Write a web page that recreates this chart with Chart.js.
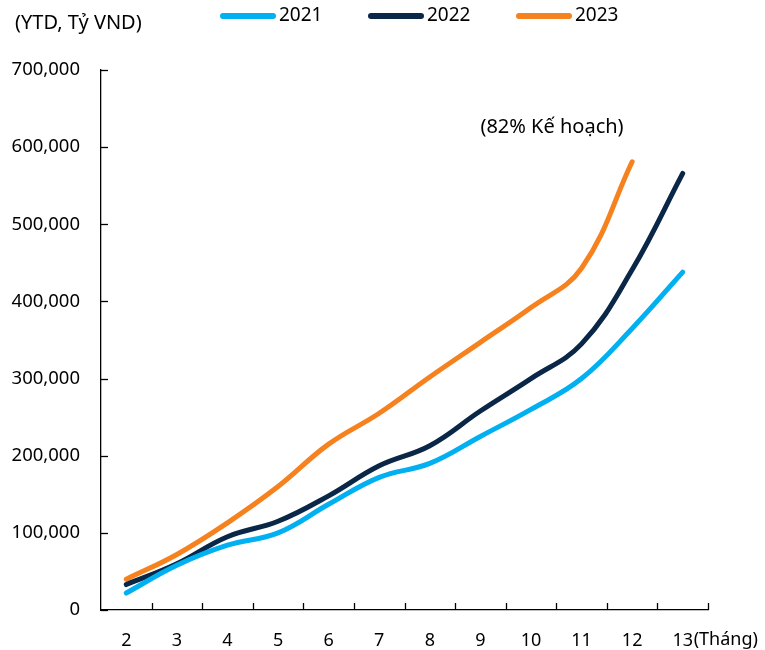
<!DOCTYPE html>
<html>
<head>
<meta charset="utf-8">
<script src="https://cdn.jsdelivr.net/npm/chart.js@4.4.0/dist/chart.umd.min.js"></script>
<style>
html,body{margin:0;padding:0;background:#fff;}
#wrap{width:765px;height:650px;position:relative;}
</style>
</head>
<body>
<div id="wrap"><canvas id="c" width="765" height="650"></canvas></div>
<script>
const categories = ["2","3","4","5","6","7","8","9","10","11","12","13"];
const series2021 = [22000, 58000, 84000, 100000, 137000, 172000, 190000, 225000, 260000, 300000, 365000, 438000];
const series2022 = [33000, 60000, 95000, 115000, 148000, 187000, 213000, 258000, 300000, 345000, 441000, 566000];
const series2023 = [40000, 72000, 113000, 160000, 215000, 255000, 302000, 347000, 392000, 443000, 581000];
const seriesNames = ["2021","2022","2023"];
const yTicks = [0,100000,200000,300000,400000,500000,600000,700000];
const unitLabel = "(YTD, Tỷ VND)";
const xUnitLabel = "(Tháng)";
const noteText = "(82% Kế hoạch)";

const COLORS = ["#00B0F0", "#0B2748", "#F5821F"];
const FONT = "'Noto Sans', 'Open Sans', sans-serif";

const extras = {
  id: 'extras',
  afterDraw(chart) {
    const ctx = chart.ctx;
    const xs = chart.scales.x, ys = chart.scales.y;
    ctx.save();
    ctx.strokeStyle = '#000';
    ctx.lineWidth = 1.3;
    // inner y ticks
    ys.ticks.forEach(t => {
      const y = Math.round(ys.getPixelForValue(t.value)) + 0.5;
      ctx.beginPath(); ctx.moveTo(xs.left, y); ctx.lineTo(xs.left + 7, y); ctx.stroke();
    });
    // inner x ticks at category boundaries
    const n = categories.length;
    for (let i = 1; i <= n; i++) {
      let x;
      if (i === n) x = xs.right;
      else x = (xs.getPixelForValue(i - 1) + xs.getPixelForValue(i)) / 2;
      x = Math.round(x) + 0.5;
      ctx.beginPath(); ctx.moveTo(x, ys.bottom); ctx.lineTo(x, ys.bottom - 7); ctx.stroke();
    }
    // texts
    ctx.fillStyle = '#000';
    ctx.textBaseline = 'middle';
    ctx.textAlign = 'left';
    ctx.font = "20px " + FONT;
    ctx.fillText(unitLabel, 15, 23);
    // x unit label right of last category
    ctx.font = "18px " + FONT;
    const lastX = xs.getPixelForValue(n - 1);
    ctx.fillText(xUnitLabel, lastX + 11, 640);
    // note
    ctx.font = "20px " + FONT;
    ctx.textAlign = 'center';
    ctx.fillText(noteText, 552, 127);
    // legend
    const legendX = [220, 368, 516];
    ctx.textAlign = 'left';
    ctx.font = "19px " + FONT;
    chart.data.datasets.forEach((ds, i) => {
      const x0 = legendX[i];
      ctx.strokeStyle = ds.borderColor;
      ctx.lineWidth = 6;
      ctx.lineCap = 'round';
      ctx.beginPath(); ctx.moveTo(x0 + 3, 16); ctx.lineTo(x0 + 53, 16); ctx.stroke();
      ctx.fillStyle = '#000';
      ctx.fillText(ds.label, x0 + 59, 16);
    });
    ctx.restore();
  }
};

new Chart(document.getElementById('c'), {
  type: 'line',
  data: {
    labels: categories,
    datasets: [
      { label: seriesNames[0], data: series2021, borderColor: COLORS[0] },
      { label: seriesNames[1], data: series2022, borderColor: COLORS[1] },
      { label: seriesNames[2], data: series2023, borderColor: COLORS[2] }
    ].map(d => Object.assign(d, {
      borderWidth: 5, pointRadius: 0, tension: 0.4, fill: false,
      borderCapStyle: 'round', borderJoinStyle: 'round', cubicInterpolationMode: 'default'
    }))
  },
  options: {
    responsive: false,
    animation: false,
    devicePixelRatio: 1,
    layout: { padding: { left: 0, right: 57, top: 70, bottom: 0 } },
    plugins: { legend: { display: false }, tooltip: { enabled: false } },
    scales: {
      x: {
        offset: true,
        grid: { display: false, drawTicks: false, offset: true },
        border: { display: true, color: '#000', width: 1.3 },
        ticks: { color: '#000', font: { size: 18, family: FONT }, padding: 20, maxRotation: 0, autoSkip: false },
        afterFit(s) { s.height = 40; }
      },
      y: {
        min: 0, max: 700000,
        afterBuildTicks(s) { s.ticks = yTicks.map(v => ({ value: v })); },
        grid: { display: false, drawTicks: false },
        border: { display: true, color: '#000', width: 1.3 },
        ticks: { color: '#000', font: { size: 18.5, family: FONT }, padding: 21,
          callback: v => Number(v).toLocaleString('en-US') },
        afterFit(s) { s.width = 101; }
      }
    }
  },
  plugins: [extras]
});
</script>
</body>
</html>
